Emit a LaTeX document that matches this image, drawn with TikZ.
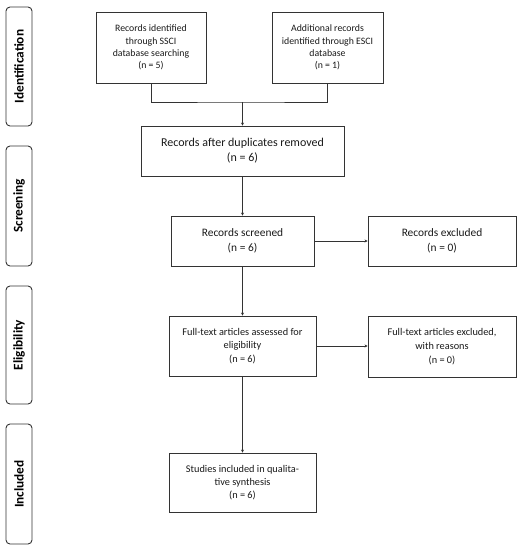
\documentclass[tikz,border=0pt]{standalone}
\usepackage{fontspec}
\setmainfont{Carlito}
\usetikzlibrary{arrows.meta}
\definecolor{ln}{gray}{0.2}
\tikzset{
  box/.style={draw=ln, line width=0.9pt, align=center, inner sep=0pt, text=black!90},
  phase/.style={draw=ln, line width=0.9pt, rounded corners=4pt, minimum width=26pt, inner sep=0pt},
  phasetext/.style={rotate=90, font=\fontsize{13.3}{15}\selectfont\bfseries},
  arr/.style={draw=ln, line width=0.7pt, -{Stealth[length=3pt,width=3pt]}},
  con/.style={draw=ln, line width=0.9pt},
}
\begin{document}
\begin{tikzpicture}[x=1pt,y=-1pt]
\useasboundingbox (0,0) rectangle (531,550);
% phases
\node[phase, minimum height=119pt] (p1) at (19,66.5) {};
\node[phasetext] at (p1.center) {Identification};
\node[phase, minimum height=120pt] (p2) at (19,206) {};
\node[phasetext] at (p2.center) {Screening};
\node[phase, minimum height=118pt] (p3) at (19,345) {};
\node[phasetext] at (p3.center) {Eligibility};
\node[phase, minimum height=120pt] (p4) at (19,484) {};
\node[phasetext] at (p4.center) {Included};
% boxes
\node[box, minimum width=110pt, minimum height=71pt, font=\fontsize{9.8}{12.4}\selectfont] (a) at (151,47.5)
  {Records identified\\through SSCI\\database searching\\(n = 5)};
\node[box, minimum width=111pt, minimum height=71pt, font=\fontsize{9.8}{12.4}\selectfont] (b) at (327.5,47.5)
  {Additional records\\identified through ESCI\\database\\(n = 1)};
\node[box, minimum width=203pt, minimum height=50pt, font=\fontsize{12}{15}\selectfont] (dup) at (242.5,151)
  {Records after duplicates removed\\(n = 6)};
\node[box, minimum width=143pt, minimum height=50pt, font=\fontsize{11.4}{14.7}\selectfont] (scr) at (242.5,241)
  {Records screened\\(n = 6)};
\node[box, minimum width=148pt, minimum height=50pt, font=\fontsize{11.4}{14.7}\selectfont] (exc) at (442,241)
  {Records excluded\\(n = 0)};
\node[box, minimum width=147pt, minimum height=60pt, font=\fontsize{10.3}{13.7}\selectfont] (full) at (242.5,346)
  {Full-text articles assessed for\\eligibility\\(n = 6)};
\node[box, minimum width=148pt, minimum height=61pt, font=\fontsize{10.3}{13.7}\selectfont] (exc2) at (442,346.5)
  {Full-text articles excluded,\\with reasons\\(n = 0)};
\node[box, minimum width=147pt, minimum height=59pt, font=\fontsize{10.3}{13.3}\selectfont] (stu) at (242.5,482.5)
  {Studies included in qualita-\\tive synthesis\\(n = 6)};
% connectors
\coordinate (m) at (242.5,102);
\draw[con] (a.south) |- (m) -| (b.south);
\draw[arr] (m) -- (dup.north);
\draw[arr] (dup.south) -- (scr.north);
\draw[arr] (scr.east) -- (exc.west);
\draw[arr] (scr.south) -- (full.north);
\draw[arr] (full.east) -- (full.east -| exc2.west);
\draw[arr] (full.south) -- (stu.north);
\end{tikzpicture}
\end{document}
